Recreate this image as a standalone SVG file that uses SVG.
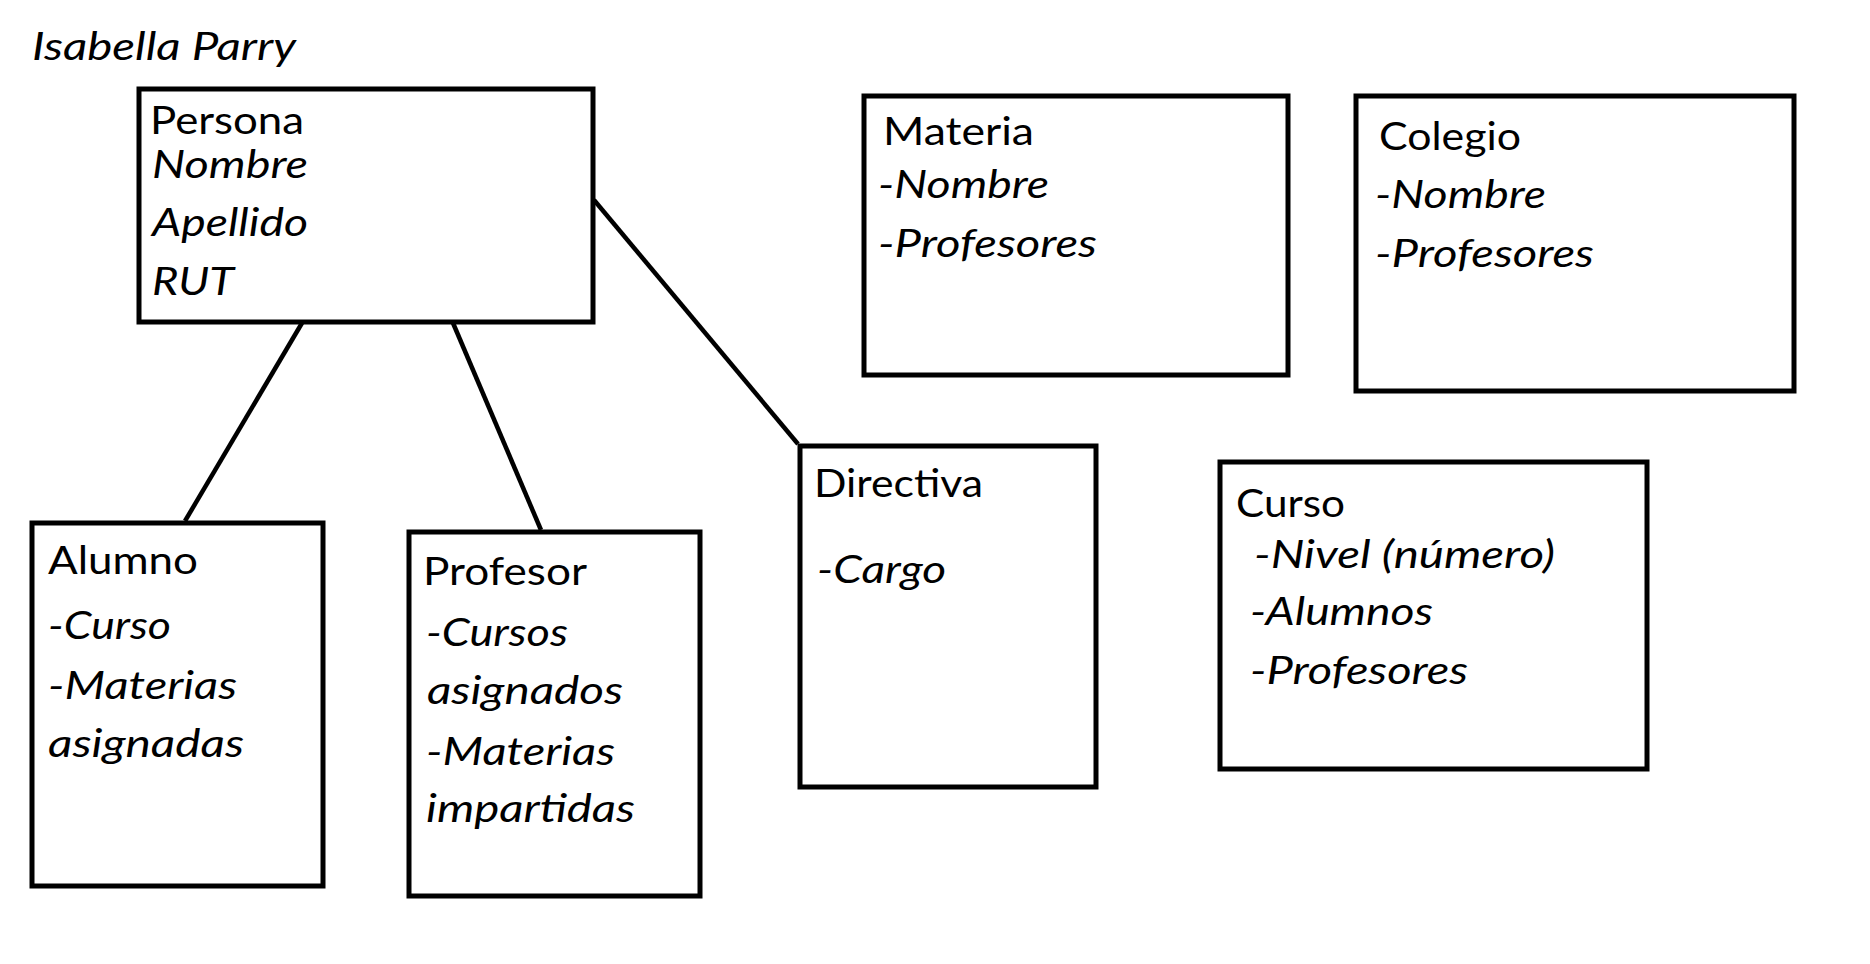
<svg xmlns="http://www.w3.org/2000/svg" width="1870" height="964" viewBox="0 0 1870 964">
<style>
.box{fill:#fff;stroke:#000;stroke-width:5}
.conn{stroke:#000;stroke-width:4.5;fill:none}
text{font-family:Lato,"Open Sans","Liberation Sans",sans-serif;font-size:38px;fill:#000}
.i{font-style:italic}
</style>
<rect width="1870" height="964" fill="#fff"/>
<text class="i" x="32" y="60" textLength="264" lengthAdjust="spacingAndGlyphs">Isabella Parry</text>
<g id="connectors">
<line class="conn" x1="302" y1="323" x2="185" y2="521"/>
<line class="conn" x1="453" y1="323" x2="541" y2="530"/>
<line class="conn" x1="594" y1="200" x2="798" y2="444"/>
</g>
<g id="persona">
<rect class="box" x="139" y="89" width="454" height="233"/>
<text x="150" y="134" textLength="154" lengthAdjust="spacingAndGlyphs">Persona</text>
<text class="i" x="152" y="178" textLength="156" lengthAdjust="spacingAndGlyphs">Nombre</text>
<text class="i" x="152" y="236" textLength="156" lengthAdjust="spacingAndGlyphs">Apellido</text>
<text class="i" x="152" y="295" textLength="82" lengthAdjust="spacingAndGlyphs">RUT</text>
</g>
<g id="materia">
<rect class="box" x="864" y="96" width="424" height="279"/>
<text x="883" y="145" textLength="151" lengthAdjust="spacingAndGlyphs">Materia</text>
<text class="i" x="878" y="198" textLength="171" lengthAdjust="spacingAndGlyphs">-Nombre</text>
<text class="i" x="878" y="257" textLength="219" lengthAdjust="spacingAndGlyphs">-Profesores</text>
</g>
<g id="colegio">
<rect class="box" x="1356" y="96" width="438" height="295"/>
<text x="1379" y="150" textLength="142" lengthAdjust="spacingAndGlyphs">Colegio</text>
<text class="i" x="1375" y="208" textLength="171" lengthAdjust="spacingAndGlyphs">-Nombre</text>
<text class="i" x="1375" y="267" textLength="219" lengthAdjust="spacingAndGlyphs">-Profesores</text>
</g>
<g id="directiva">
<rect class="box" x="800" y="446" width="296" height="341"/>
<text x="814" y="497" textLength="169" lengthAdjust="spacingAndGlyphs">Directiva</text>
<text class="i" x="817" y="583" textLength="129" lengthAdjust="spacingAndGlyphs">-Cargo</text>
</g>
<g id="curso">
<rect class="box" x="1220" y="462" width="427" height="307"/>
<text x="1236" y="517" textLength="109" lengthAdjust="spacingAndGlyphs">Curso</text>
<text class="i" x="1254" y="568" textLength="301" lengthAdjust="spacingAndGlyphs">-Nivel (número)</text>
<text class="i" x="1250" y="625" textLength="183" lengthAdjust="spacingAndGlyphs">-Alumnos</text>
<text class="i" x="1250" y="684" textLength="218" lengthAdjust="spacingAndGlyphs">-Profesores</text>
</g>
<g id="alumno">
<rect class="box" x="32" y="523" width="291" height="363"/>
<text x="48" y="574" textLength="150" lengthAdjust="spacingAndGlyphs">Alumno</text>
<text class="i" x="48" y="639" textLength="123" lengthAdjust="spacingAndGlyphs">-Curso</text>
<text class="i" x="48" y="699" textLength="189" lengthAdjust="spacingAndGlyphs">-Materias</text>
<text class="i" x="48" y="757" textLength="196" lengthAdjust="spacingAndGlyphs">asignadas</text>
</g>
<g id="profesor">
<rect class="box" x="409" y="532" width="291" height="364"/>
<text x="423" y="585" textLength="164" lengthAdjust="spacingAndGlyphs">Profesor</text>
<text class="i" x="426" y="646" textLength="142" lengthAdjust="spacingAndGlyphs">-Cursos</text>
<text class="i" x="427" y="704" textLength="196" lengthAdjust="spacingAndGlyphs">asignados</text>
<text class="i" x="426" y="765" textLength="189" lengthAdjust="spacingAndGlyphs">-Materias</text>
<text class="i" x="426" y="822" textLength="209" lengthAdjust="spacingAndGlyphs">impartidas</text>
</g>
</svg>
